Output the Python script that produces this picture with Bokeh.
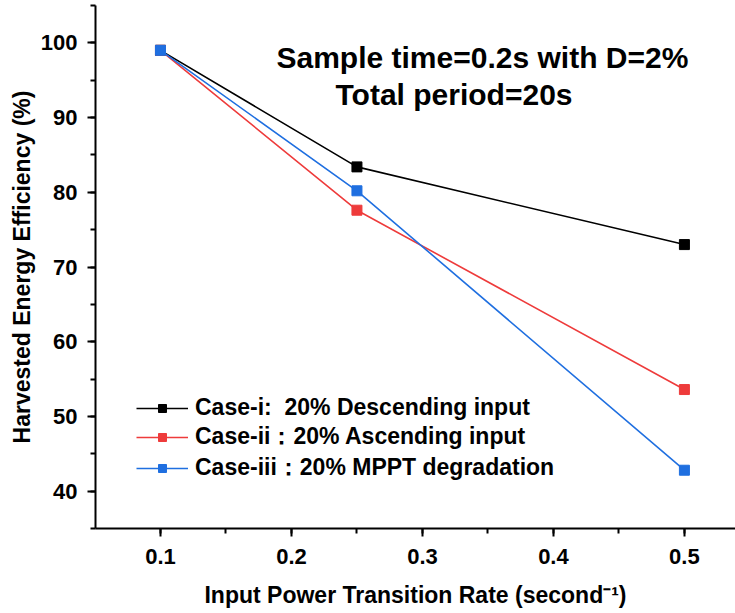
from bokeh.plotting import figure
from bokeh.models import Range1d, SingleIntervalTicker, Legend, LegendItem, Label
from bokeh.embed import file_html
from bokeh.resources import INLINE

x_rate = [0.1, 0.25, 0.5]
case_i = [99.0, 83.4, 73.0]
case_ii = [99.0, 77.6, 53.6]
case_iii = [99.0, 80.2, 42.8]
series_names = ["Case-i:  20% Descending input", "Case-ii\uff1a20% Ascending input", "Case-iii\uff1a20% MPPT degradation"]
series_colors = ["#000000", "#EE3B3B", "#1F6FE0"]
x_title = "Input Power Transition Rate (second\u207b\u00b9)"
y_title = "Harvested Energy Efficiency (%)"
note1 = "Sample time=0.2s with D=2%"
note2 = "Total period=20s"

FONT = "Liberation Sans"

p = figure(width=735, height=613, output_backend="svg", toolbar_location=None,
           x_range=Range1d(0.0504, 0.539), y_range=Range1d(35, 105),
           min_border_left=95, min_border_right=0, min_border_top=5, min_border_bottom=85)
p.outline_line_color = None
p.grid.visible = False
p.background_fill_color = "white"

for ax in (p.xaxis[0], p.yaxis[0]):
    ax.axis_line_width = 2
    ax.major_tick_line_width = 2
    ax.minor_tick_line_width = 2
    ax.major_tick_out = 8
    ax.major_tick_in = 0
    ax.minor_tick_out = 5
    ax.minor_tick_in = 0
    ax.major_label_text_font = FONT
    ax.major_label_text_font_style = "bold"
    ax.major_label_text_font_size = "22px"
    ax.major_label_text_color = "black"
    ax.axis_label_text_font = FONT
    ax.axis_label_text_font_style = "bold"
    ax.axis_label_text_font_size = "23px"
    ax.axis_label_text_color = "black"

p.xaxis[0].ticker = SingleIntervalTicker(interval=0.1, num_minor_ticks=2)
p.yaxis[0].ticker = SingleIntervalTicker(interval=10, num_minor_ticks=2)
p.xaxis[0].axis_label = x_title
p.yaxis[0].axis_label = y_title
p.xaxis[0].major_label_standoff = 12
p.xaxis[0].axis_label_standoff = 15
p.yaxis[0].major_label_standoff = 10
p.yaxis[0].axis_label_standoff = 3

items = []
for ys, name, col in zip([case_i, case_ii, case_iii], series_names, series_colors):
    r1 = p.line(x_rate, ys, line_color=col, line_width=1.6)
    r2 = p.scatter(x_rate, ys, marker="square", size=10, fill_color=col, line_color=col)
    items.append(LegendItem(label=name, renderers=[r1, r2]))

legend = Legend(items=items, location=(41, 45), background_fill_alpha=0,
                border_line_color=None, padding=0, margin=0, spacing=-2,
                glyph_width=52, glyph_height=20, label_height=20, label_standoff=7,
                label_text_font=FONT, label_text_font_style="bold",
                label_text_font_size="23px", label_text_color="black")
p.add_layout(legend)

p.add_layout(Label(x=181, y=471, x_units="screen", y_units="screen", text=note1,
                   text_font=FONT, text_font_style="bold", text_font_size="30px",
                   text_color="black", text_baseline="alphabetic"))
p.add_layout(Label(x=240, y=434, x_units="screen", y_units="screen", text=note2,
                   text_font=FONT, text_font_style="bold", text_font_size="30px",
                   text_color="black", text_baseline="alphabetic"))

open("out.html", "w").write(file_html(p, INLINE))
